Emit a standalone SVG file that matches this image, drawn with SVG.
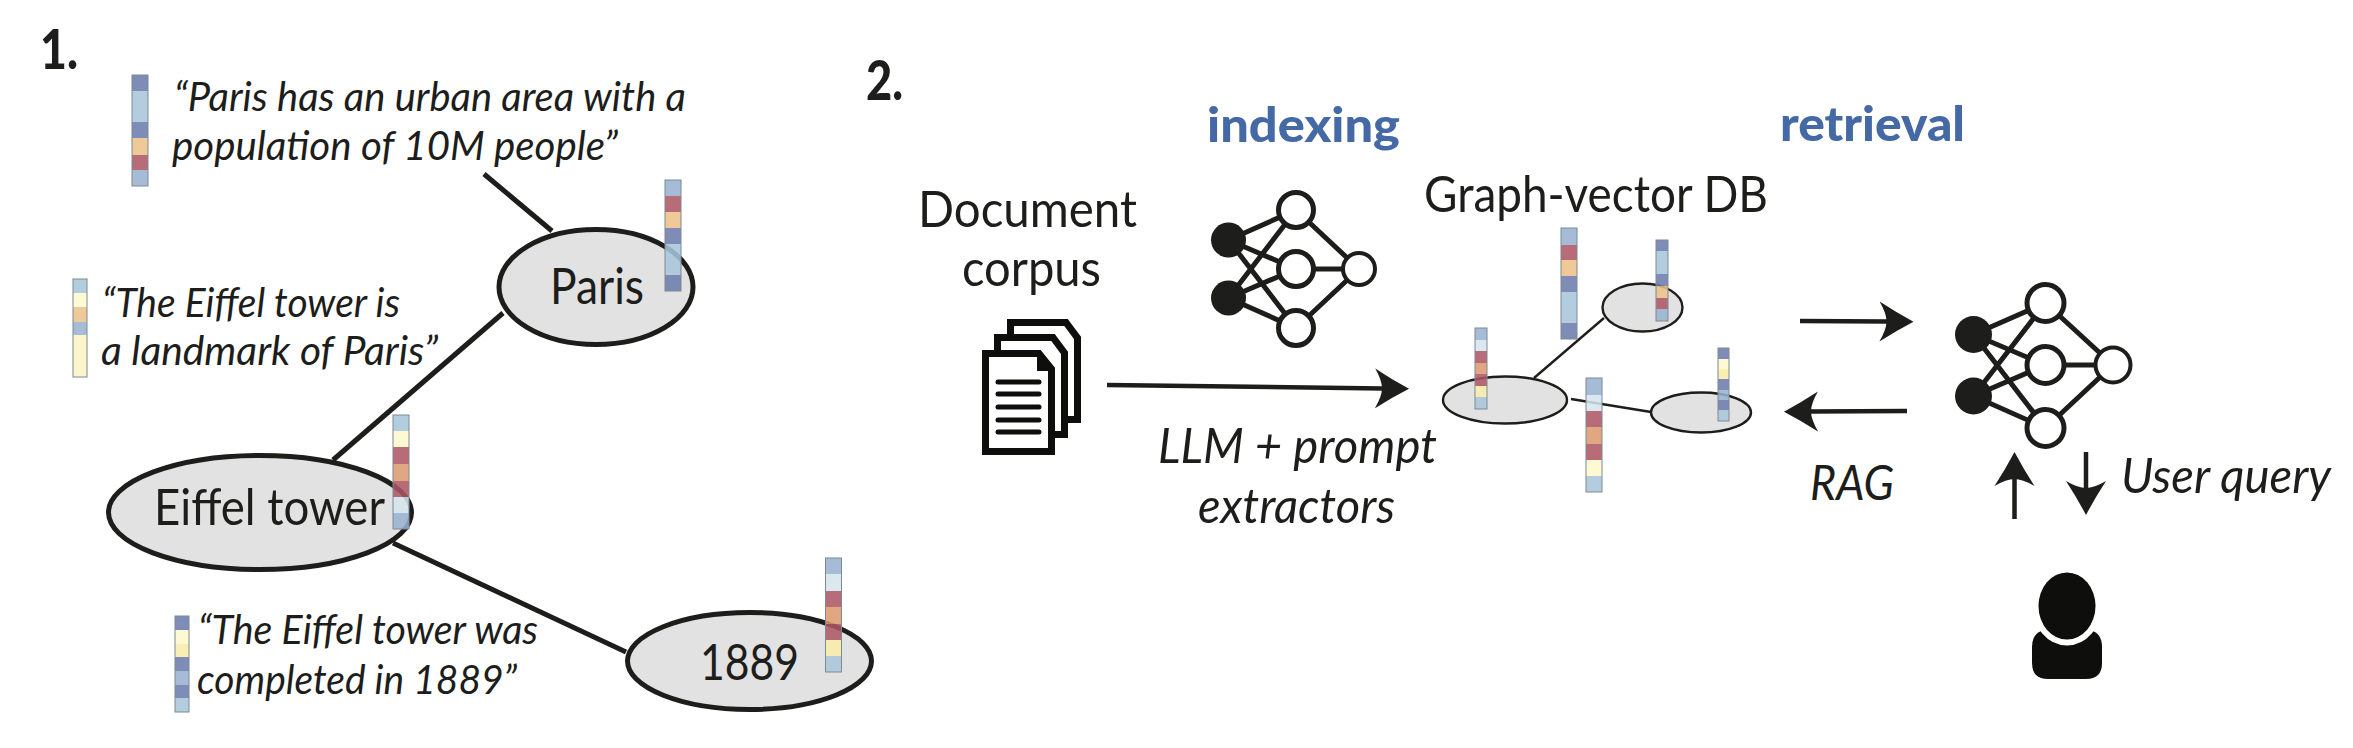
<svg xmlns="http://www.w3.org/2000/svg" width="2353" height="748" viewBox="0 0 2353 748">
<style>
text{font-family:"Lato","Open Sans","Liberation Sans",sans-serif;fill:#1d1d1b;font-size:48px}
.q{font-style:italic;font-size:41px}
.i{font-style:italic;font-size:49px}
.n{font-size:51px}
.h{font-weight:900;font-size:55px}
.b{font-weight:900;fill:#4469a4;font-size:48px}
.big{fill:#e2e2e2;stroke:#1d1d1b;stroke-width:5}
.sm{fill:#e2e2e2;stroke:#1d1d1b;stroke-width:2.4}
.l{stroke:#1d1d1b;fill:none;stroke-linecap:butt}
.c5{stroke-width:5}.c2{stroke-width:2.4}.c4{stroke-width:4.5}
.o{fill:#fff;stroke:#1d1d1b;stroke-width:5}
.k{fill:#1d1d1b}
.nl{stroke:#1d1d1b;stroke-width:5;fill:none}
.f{fill:none;stroke:#7c8a94;stroke-width:1}
.v rect{fill-opacity:.87}
.db{fill:#6b7bac}.lb{fill:#a9c5d9}.bl{fill:#98b1d0}.or{fill:#edc188}.rd{fill:#ad5663}.ao{fill:#dc9a71}.py{fill:#fdf8cb}.yl{fill:#f8eba8}.pb{fill:#d3e6ed}
.doc{fill:#fff;stroke:#0e0e0c;stroke-width:7}
.fold{fill:#0e0e0c}
.dl{stroke:#0e0e0c;stroke-width:5;stroke-linecap:round}
</style>
<defs>
<marker id="ah" markerUnits="userSpaceOnUse" markerWidth="36" markerHeight="42" viewBox="0 -21 36 42" refX="8" refY="0" orient="auto">
<path d="M34,0 Q17,-9 0,-20 Q7,-8 7,0 Q7,8 0,20 Q17,9 34,0Z" fill="#1d1d1b"/>
</marker>
</defs>

<g id="panel-labels">
<text class="h" x="40" y="69" textLength="38" lengthAdjust="spacingAndGlyphs">1.</text>
<text class="h" x="866" y="100" textLength="37" lengthAdjust="spacingAndGlyphs">2.</text>
<text class="b" x="1207" y="142" textLength="193" lengthAdjust="spacingAndGlyphs">indexing</text>
<text class="b" x="1780" y="141" textLength="185" lengthAdjust="spacingAndGlyphs">retrieval</text>
</g>

<g id="connectors">
<path class="l c5" d="M484,174L552,231"/>
<path class="l c5" d="M503,313L333,460"/>
<path class="l c5" d="M393,543L626,652"/>
<path class="l c2" d="M1534,378L1604,318"/>
<path class="l c2" d="M1571,399L1651,412"/>
<path class="l c4" d="M1107,385L1383,388.5" marker-end="url(#ah)"/>
<path class="l c4" d="M1800,321L1887.5,321.5" marker-end="url(#ah)"/>
<path class="l c4" d="M1907,411L1810,411.5" marker-end="url(#ah)"/>
<path class="l c4" d="M2014.5,519V478" marker-end="url(#ah)"/>
<path class="l c4" d="M2086,452V489" marker-end="url(#ah)"/>
</g>

<g id="sentence-paris">
<g class="v"><rect class="db" x="132" y="75" width="16" height="16"/><rect class="lb" x="132" y="91" width="16" height="31"/><rect class="db" x="132" y="122" width="16" height="16"/><rect class="or" x="132" y="138" width="16" height="17"/><rect class="rd" x="132" y="155" width="16" height="15"/><rect class="bl" x="132" y="170" width="16" height="16"/><rect class="f" x="132" y="75" width="16" height="111"/></g>
<text class="q" x="174" y="111" textLength="512" lengthAdjust="spacingAndGlyphs">“Paris has an urban area with a</text>
<text class="q" x="172" y="160" textLength="446" lengthAdjust="spacingAndGlyphs">population of 10M people”</text>
</g>

<g id="sentence-landmark">
<g class="v"><rect class="lb" x="73" y="279" width="14" height="14"/><rect class="py" x="73" y="293" width="14" height="14"/><rect class="or" x="73" y="307" width="14" height="15"/><rect class="bl" x="73" y="322" width="14" height="13"/><rect class="yl" style="fill:#fcf3c4" x="73" y="335" width="14" height="42"/><rect class="f" x="73" y="279" width="14" height="98"/></g>
<text class="q" x="102" y="317" textLength="298" lengthAdjust="spacingAndGlyphs">“The Eiffel tower is</text>
<text class="q" x="101" y="365" textLength="337" lengthAdjust="spacingAndGlyphs">a landmark of Paris”</text>
</g>

<g id="sentence-1889">
<g class="v"><rect class="db" x="175" y="616" width="14" height="14"/><rect class="py" x="175" y="630" width="14" height="14"/><rect class="yl" x="175" y="644" width="14" height="13"/><rect class="db" x="175" y="657" width="14" height="14"/><rect class="bl" x="175" y="671" width="14" height="14"/><rect class="db" x="175" y="685" width="14" height="13"/><rect class="lb" x="175" y="698" width="14" height="14"/><rect class="f" x="175" y="616" width="14" height="96"/></g>
<text class="q" x="198" y="644" textLength="340" lengthAdjust="spacingAndGlyphs">“The Eiffel tower was</text>
<text class="q" x="197" y="694" textLength="320" lengthAdjust="spacingAndGlyphs">completed in 1889”</text>
</g>

<g id="node-paris">
<ellipse class="big" cx="596" cy="287" rx="97" ry="57.5"/>
<text class="n" x="550" y="304" textLength="94" lengthAdjust="spacingAndGlyphs">Paris</text>
<g class="v"><rect class="bl" x="665" y="180" width="16" height="16"/><rect class="rd" x="665" y="196" width="16" height="16"/><rect class="or" x="665" y="212" width="16" height="16"/><rect class="db" x="665" y="228" width="16" height="16"/><rect class="lb" x="665" y="244" width="16" height="31"/><rect class="db" x="665" y="275" width="16" height="16"/><rect class="f" x="665" y="180" width="16" height="111"/></g>
</g>

<g id="node-eiffel">
<ellipse class="big" cx="260" cy="512.5" rx="151.5" ry="57"/>
<text class="n" x="154" y="525" textLength="231" lengthAdjust="spacingAndGlyphs">Eiffel tower</text>
<g class="v"><rect class="lb" x="393" y="415" width="16" height="16"/><rect class="py" x="393" y="431" width="16" height="16"/><rect class="rd" x="393" y="447" width="16" height="17"/><rect class="ao" x="393" y="464" width="16" height="17"/><rect class="rd" x="393" y="481" width="16" height="16"/><rect class="pb" x="393" y="497" width="16" height="16"/><rect class="bl" x="393" y="513" width="16" height="16"/><rect class="f" x="393" y="415" width="16" height="114"/></g>
</g>

<g id="node-1889">
<ellipse class="big" cx="749.5" cy="661" rx="122" ry="48.5"/>
<text class="n" x="700" y="680" textLength="99" lengthAdjust="spacingAndGlyphs">1889</text>
<g class="v"><rect class="bl" x="825.500" y="558" width="16" height="16"/><rect class="pb" x="825.500" y="574" width="16" height="17"/><rect class="rd" x="825.500" y="591" width="16" height="16"/><rect class="ao" x="825.500" y="607" width="16" height="17"/><rect class="rd" x="825.500" y="624" width="16" height="16"/><rect class="yl" x="825.500" y="640" width="16" height="16"/><rect class="lb" x="825.500" y="656" width="16" height="16"/><rect class="f" x="825.500" y="558" width="16" height="114"/></g>
</g>

<g id="document-corpus">
<text class="n" x="918" y="227" textLength="219" lengthAdjust="spacingAndGlyphs">Document</text>
<text class="n" x="962" y="286" textLength="139" lengthAdjust="spacingAndGlyphs">corpus</text>
<path class="doc" d="M1010.500,322.500H1066L1077.500,338V419.500H1010.500Z"/>
<path class="doc" d="M997.500,337.500H1053L1064.500,353V434.500H997.500Z"/>
<path class="doc" d="M985.500,353.500H1039L1051.500,369V451.500H985.500Z"/>
<path class="fold" d="M1037,352L1053,371H1037Z"/>
<path class="dl" d="M998,382H1039M998,394H1039M998,407H1039M998,420H1039M998,432H1039"/>
</g>

<g id="llm-indexer">
<path class="nl" d="M1228.500,240L1296,210M1228.500,240L1296,269M1228.500,240L1296,328M1228.500,298L1296,210M1228.500,298L1296,269M1228.500,298L1296,328M1296,210L1359,269M1296,269H1359M1296,328L1359,269"/>
<circle class="k" cx="1228.500" cy="240" r="17.500"/><circle class="k" cx="1228.500" cy="298" r="17.500"/>
<circle class="o" cx="1296" cy="210" r="17.500"/><circle class="o" cx="1296" cy="269" r="17.500"/><circle class="o" cx="1296" cy="328" r="17.500"/><circle class="o" cx="1359" cy="269" r="16" style="stroke-width:4"/>
</g>

<g id="label-extractors">
<text class="i" x="1158" y="463" textLength="279" lengthAdjust="spacingAndGlyphs">LLM + prompt</text>
<text class="i" x="1198" y="523" textLength="197" lengthAdjust="spacingAndGlyphs">extractors</text>
</g>

<g id="graph-vector-db">
<text class="n" x="1424" y="212" textLength="344" lengthAdjust="spacingAndGlyphs">Graph-vector DB</text>
<g class="v"><rect class="bl" x="1561" y="228" width="16" height="17"/><rect class="rd" x="1561" y="245" width="16" height="15"/><rect class="or" x="1561" y="260" width="16" height="16"/><rect class="db" x="1561" y="276" width="16" height="16"/><rect class="lb" x="1561" y="292" width="16" height="31"/><rect class="db" x="1561" y="323" width="16" height="16"/><rect class="f" x="1561" y="228" width="16" height="111"/></g>
<ellipse class="sm" cx="1642.500" cy="307.500" rx="40" ry="24"/>
<g class="v"><rect class="db" x="1656" y="240" width="12" height="11"/><rect class="lb" x="1656" y="251" width="12" height="23"/><rect class="db" x="1656" y="274" width="12" height="12"/><rect class="or" x="1656" y="286" width="12" height="12"/><rect class="rd" x="1656" y="298" width="12" height="11"/><rect class="bl" x="1656" y="309" width="12" height="12"/><rect class="f" x="1656" y="240" width="12" height="81"/></g>
<ellipse class="sm" cx="1505" cy="400" rx="62" ry="23.500"/>
<g class="v"><rect class="bl" x="1475" y="328" width="12" height="12"/><rect class="pb" x="1475" y="340" width="12" height="11"/><rect class="rd" x="1475" y="351" width="12" height="12"/><rect class="ao" x="1475" y="363" width="12" height="11"/><rect class="rd" x="1475" y="374" width="12" height="12"/><rect class="yl" x="1475" y="386" width="12" height="11"/><rect class="lb" x="1475" y="397" width="12" height="12"/><rect class="f" x="1475" y="328" width="12" height="81"/></g>
<ellipse class="sm" cx="1701" cy="412.500" rx="50" ry="20"/>
<g class="v"><rect class="db" x="1718" y="348" width="11" height="11"/><rect class="py" x="1718" y="359" width="11" height="10"/><rect class="yl" x="1718" y="369" width="11" height="10"/><rect class="db" x="1718" y="379" width="11" height="11"/><rect class="bl" x="1718" y="390" width="11" height="10"/><rect class="db" x="1718" y="400" width="11" height="10"/><rect class="lb" x="1718" y="410" width="11" height="11"/><rect class="f" x="1718" y="348" width="11" height="73"/></g>
<g class="v"><rect class="bl" x="1586" y="378" width="16" height="17"/><rect class="pb" x="1586" y="395" width="16" height="16"/><rect class="rd" x="1586" y="411" width="16" height="16"/><rect class="ao" x="1586" y="427" width="16" height="17"/><rect class="rd" x="1586" y="444" width="16" height="16"/><rect class="py" x="1586" y="460" width="16" height="16"/><rect class="lb" x="1586" y="476" width="16" height="16"/><rect class="f" x="1586" y="378" width="16" height="114"/></g>
</g>

<g id="llm-retriever">
<path class="nl" d="M1973.500,334.500L2045.500,303M1973.500,334.500L2045.500,365M1973.500,334.500L2045.500,428M1973.500,396L2045.500,303M1973.500,396L2045.500,365M1973.500,396L2045.500,428M2045.500,303L2113,365M2045.500,365H2113M2045.500,428L2113,365"/>
<circle class="k" cx="1973.500" cy="334.500" r="18.500"/><circle class="k" cx="1973.500" cy="396" r="18.500"/>
<circle class="o" cx="2045.500" cy="303" r="18.500"/><circle class="o" cx="2045.500" cy="365" r="18.500"/><circle class="o" cx="2045.500" cy="428" r="18.500"/><circle class="o" cx="2113" cy="365" r="17.500" style="stroke-width:4"/>
</g>

<g id="labels-retrieval">
<text class="i" x="1810" y="500" textLength="84" lengthAdjust="spacingAndGlyphs">RAG</text>
<text class="i" x="2121" y="493" textLength="210" lengthAdjust="spacingAndGlyphs">User query</text>
</g>

<g id="user">
<path d="M2032,647Q2032,633 2044,630H2090Q2102,633 2102,647V663Q2102,679 2086,679H2048Q2032,679 2032,663Z" fill="#0e0e0c"/>
<ellipse cx="2067" cy="606" rx="28.500" ry="33.500" fill="#0e0e0c" stroke="#fff" stroke-width="12" paint-order="stroke"/>
</g>
</svg>
